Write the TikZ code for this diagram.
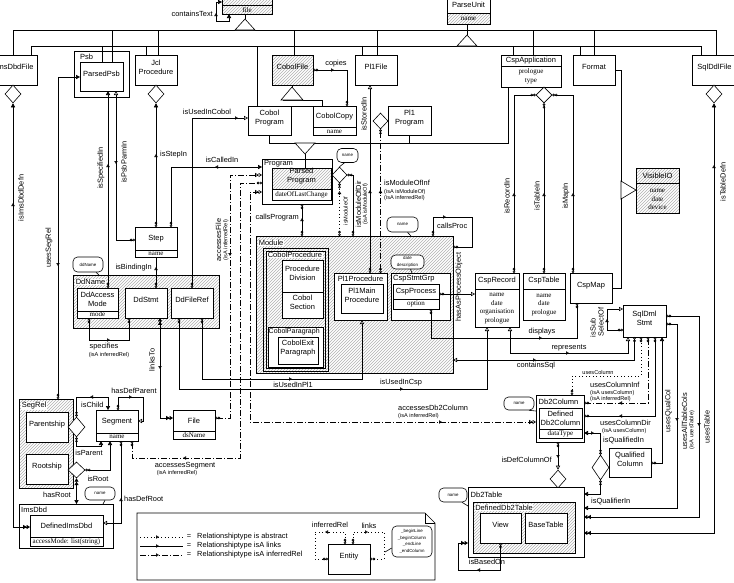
\documentclass[tikz,border=0pt]{standalone}
\usepackage{fontspec}
\setmainfont{Liberation Sans}
\newfontfamily\attrfont{Liberation Serif}
\usetikzlibrary{arrows.meta,patterns,fit,shapes.geometric}
\tikzset{
  OO/.tip={Circle[open,length=2.6pt,width=2.6pt]Circle[open,length=2.6pt,width=2.6pt]},
  TO/.tip={Triangle[open,length=4pt,width=4.2pt]},
  TOO/.tip={Triangle[open,length=3.4pt,width=4pt]Triangle[open,length=3.4pt,width=4pt]},
  TF/.tip={Triangle[length=4pt,width=4.2pt]},
  TFF/.tip={Triangle[length=3.4pt,width=4pt]Triangle[length=3.4pt,width=4pt]},
  rel/.style={line width=0.6pt},
  abst/.style={line width=0.6pt, dash pattern=on 1pt off 2.5pt},
  infr/.style={line width=0.6pt, dash pattern=on 6pt off 2pt on 1pt off 2pt},
  box/.style={draw, line width=0.6pt, fill=white, inner sep=0pt, outer sep=0pt, align=center, font=\fontsize{7.5}{9}\selectfont},
  hbox/.style={draw, line width=0.6pt, inner sep=0pt, outer sep=0pt, align=center, font=\fontsize{7.5}{9}\selectfont, preaction={fill=white}, pattern=north east lines, pattern color=gray!60},
  ttl/.style={inner sep=0pt, align=center, font=\fontsize{7.5}{9}\selectfont},
  boxcap/.style={inner sep=0.6pt, fill=white, anchor=west, font=\fontsize{7.5}{9}\selectfont},
  attr/.style={inner sep=0pt, align=center, font=\attrfont\fontsize{7}{8.7}\selectfont},
  lbl/.style={inner sep=0pt, font=\fontsize{7.4}{8.5}\selectfont},
  slbl/.style={inner sep=0pt, font=\fontsize{5.6}{6.5}\selectfont},
  bubble/.style={draw, line width=0.6pt, fill=white, rounded corners=4.5pt, inner sep=0pt, align=center, font=\fontsize{4.4}{6.5}\selectfont},
  dmd/.style={diamond, draw, line width=0.6pt, fill=white, inner sep=0pt},
  tri/.style={draw, line width=0.6pt, fill=white},
}
\newcommand{\marr}[4]{\draw[rel,-{Triangle[open,length=3pt,width=3.4pt]}] (#1,#2) -- ++(#3,#4);}
\begin{document}
\begin{tikzpicture}[x=1pt,y=-1pt]
\useasboundingbox (0,0) rectangle (734,582);

% ---------- top row ----------
\node[hbox, fit={(222,-12)(272,14)}] (filebox) {};
\draw[rel] (222,5) -- (272,5);
\node[attr] (filetxt) at (247,10) {file};
\node[box, fit={(447,-12)(490,24)}] (parseunit) {};
\node[hbox, fit={(447,13)(490,24)}] (puattr) {};
\node[ttl] (putitle) at (468.5,5) {ParseUnit};
\node[attr] (puname) at (468.5,19) {name};

\node[box, fit={(-8,55)(37,85)}] (imsdbdfile) {ImsDbdFile};
\node[dmd, minimum width=16pt, minimum height=18pt] (imsd) at (13,94) {};
\node[box, fit={(74,51)(129,97)}] (psb) {};
\node[ttl, anchor=west] (psbT) at (80,56.5) {Psb};
\node[box, fit={(80,62)(123,91)}] (parsedpsb) {ParsedPsb};
\node[box, fit={(135,55)(177,85)}] (jcl) {Jcl\\Procedure};
\node[dmd, minimum width=16pt, minimum height=18pt] (jcld) at (156,94) {};
\node[hbox, fit={(272,55)(313,85)}] (cobolfile) {CobolFile};
\node[box, fit={(355,55)(397,85)}] (pl1file) {Pl1File};
\node[box, fit={(501,55)(561,87)}] (cspapp) {};
\draw[rel] (501,66) -- (561,66);
\node[ttl] (cspappT) at (531,60.5) {CspApplication};
\node[attr] (cspappA) at (531,76.5) {prologue\\type};
\node[dmd, minimum width=16pt, minimum height=16pt] (cspd) at (544,95) {};
\node[box, fit={(573,55)(615,85)}] (format) {Format};
\node[box, fit={(692,55)(737,85)}] (sqlddlfile) {SqlDdlFile};
\node[dmd, minimum width=16pt, minimum height=18pt] (sqld) at (714,94) {};

% ---------- programs ----------
\node[box, fit={(248,106)(291,135)}] (cobolprog) {Cobol\\Program};
\node[box, fit={(313,106)(356,135)}] (cobolcopy) {};
\draw[rel] (313,127) -- (356,127);
\node[ttl] (cobolcopyT) at (334.5,117) {CobolCopy};
\node[attr] (cobolcopyA) at (334.5,131.5) {name};
\node[box, fit={(388,106)(431,135)}] (pl1prog) {Pl1\\Program};
\node[dmd, minimum width=15pt, minimum height=16pt] (pl1d) at (380.5,121) {};

\node[box, fit={(262,159)(332,204)}] (program) {};
\node[ttl, anchor=west] (programT) at (264,163.5) {Program};
\node[box, fit={(272,168)(331,200)}] (parsedprog) {};
\node[hbox, fit={(272,168)(331,189)}] (parsedprogT) {Parsed\\Program};
\node[attr] (parsedprogA) at (301.5,194.5) {dateOfLastChange};
\node[dmd, minimum width=15pt, minimum height=16pt] (progd) at (339.5,175) {};

% ---------- module ----------
\node[hbox, fit={(256,236)(453,373)}] (module) {};
\node[boxcap] (moduleT) at (258,243) {Module};
\node[draw, rel, inner sep=0pt, fit={(263,248)(328,371)}] (cobolproc) {};
\draw[rel] (266,251) rectangle (325,368);
\node[boxcap, fill=white] (cobolprocT) at (267,255) {CobolProcedure};
\node[box, fit={(282,260)(323,292)}] (procdiv) {Procedure\\Division};
\node[box, fit={(282,292)(323,318)}] (cobolsec) {Cobol\\Section};
\node[box, fit={(268,327)(323,367)}] (cobolpara) {};
\node[ttl, anchor=west, font=\fontsize{7}{8}\selectfont] (cobolparaT) at (268.5,332) {CobolParagraph};
\node[box, fit={(278,337)(318,364)}] (cobolexit) {CobolExit\\Paragraph};
\node[box, fit={(334,273)(387,320)}] (pl1proc) {};
\node[ttl] (pl1procT) at (360.5,279) {Pl1Procedure};
\node[box, fit={(341,284)(383,313)}] (pl1main) {Pl1Main\\Procedure};
\node[box, fit={(391,273)(450,320)}] (cspgrp) {};
\node[ttl, anchor=west] (cspgrpT) at (393,279) {CspStmtGrp};
\node[box, fit={(393,284)(439,309)}] (cspproc) {};
\draw[rel] (393,299) -- (439,299);
\node[ttl] (cspprocT) at (416,291.5) {CspProcess};
\node[attr] (cspprocA) at (416,304) {option};

% ---------- csp ----------
\node[box, fit={(475,273)(519,327)}] (csprecord) {};
\draw[rel] (475,289) -- (519,289);
\node[ttl] (csprecT) at (497,281) {CspRecord};
\node[attr] (csprecA) at (497,308.5) {name\\date\\organisation\\prologue};
\node[box, fit={(523,273)(565,320)}] (csptable) {};
\draw[rel] (523,289) -- (565,289);
\node[ttl] (csptabT) at (544,281) {CspTable};
\node[attr] (csptabA) at (544,305) {name\\date\\prologue};
\node[box, fit={(570,273)(612,303)}] (cspmap) {CspMap};
\node[hbox, fit={(636,168)(679,213)}] (visibleio) {};
\draw[rel] (636,183) -- (679,183);
\node[ttl] (vioT) at (657.5,176) {VisibleIO};
\node[attr] (vioA) at (657.5,199.5) {name\\date\\device};
\node[box, fit={(623,305)(666,337)}] (sqldml) {SqlDml\\Stmt};

% ---------- Dd / step ----------
\node[box, fit={(135,227)(177,257)}] (step) {};
\draw[rel] (135,250) -- (177,250);
\node[ttl] (stepT) at (156,238.5) {Step};
\node[attr] (stepA) at (156,253.5) {name};
\node[hbox, fit={(73,275)(219,328)}] (ddname) {};
\node[boxcap] (ddnameT) at (75,282) {DdName};
\node[box, fit={(77,288)(118,318)}] (ddaccess) {};
\draw[rel] (77,311) -- (118,311);
\node[ttl] (ddaccessT) at (97.5,299.5) {DdAccess\\Mode};
\node[attr] (ddaccessA) at (97.5,314.5) {mode};
\node[box, fit={(125,288)(167,318)}] (ddstmt) {DdStmt};
\node[box, fit={(171,288)(213,318)}] (ddfileref) {DdFileRef};
\node[box, fit={(173,410)(215,439)}] (filenode) {};
\draw[rel] (173,431) -- (215,431);
\node[ttl] (fileT) at (194,420.5) {File};
\node[attr] (fileA) at (194,435) {dsName};

% ---------- segments ----------
\node[hbox, fit={(19,399)(73,488)}] (segrel) {};
\node[boxcap] (segrelT) at (21,406) {SegRel};
\node[box, fit={(26,412)(68,442)}] (parentship) {Parentship};
\node[box, fit={(26,454)(68,484)}] (rootship) {Rootship};
\node[dmd, minimum width=17pt, minimum height=20pt] (pard) at (76.5,427) {};
\node[dmd, minimum width=17pt, minimum height=16pt] (rootd) at (76.5,470) {};
\node[box, fit={(96,410)(138,441)}] (segment) {};
\draw[rel] (96,433) -- (138,433);
\node[ttl] (segmentT) at (117,421.5) {Segment};
\node[attr] (segmentA) at (117,437) {name};
\node[box, fit={(19,504)(113,548)}] (imsdbd) {};
\node[ttl, anchor=west] (imsdbdT) at (21,510) {ImsDbd};
\node[box, fit={(30,515)(103,546)}] (defimsdbd) {};
\draw[rel] (30,537) -- (103,537);
\node[ttl] (defimsdbdT) at (66.5,526) {DefinedImsDbd};
\node[attr] (defimsdbdA) at (66.5,541.5) {accessMode: list(string)};

% ---------- db2 ----------
\node[box, fit={(536,395)(584,442)}] (db2column) {};
\node[ttl, anchor=west] (db2colT) at (538.5,402) {Db2Column};
\node[box, fit={(539,408)(582,438)}] (defdb2col) {};
\draw[rel] (539,429) -- (582,429);
\node[ttl] (defdb2colT) at (560.5,418.5) {Defined\\Db2Column};
\node[attr] (defdb2colA) at (560.5,433.5) {dataType};
\node[dmd, minimum width=17pt, minimum height=25pt] (quald) at (600.5,467.5) {};
\node[box, fit={(609,448)(651,477)}] (qualcol) {Qualified\\Column};
\node[dmd, minimum width=16pt, minimum height=18pt] (defd) at (558,479) {};
\node[box, fit={(468,487)(584,557)}] (db2table) {};
\node[ttl, anchor=west] (db2tableT) at (470.5,494.5) {Db2Table};
\node[hbox, fit={(473,502)(575,553)}] (defdb2table) {};
\node[boxcap] (defdb2tableT) at (474.5,507.5) {DefinedDb2Table};
\node[box, fit={(480,513)(521,543)}] (view) {View};
\node[box, fit={(525,513)(567,543)}] (basetable) {BaseTable};

% ---------- legend ----------
\draw[rel] (137,513) -- (425,513) -- (435,523) -- (435,580) -- (137,580) -- cycle;
\draw[rel] (425,513) -- (425,523) -- (435,523);
\node[box, fit={(328,544)(370,574)}] (entity) {Entity};

% ---------- hierarchy ----------
\draw[rel] (13,30) -- (716,30);
\draw[rel] (31,46) -- (701,46);
\draw[rel] (13,30) -- (imsdbdfile.north -| 13,0);
\draw[rel] (31,46) -- (imsdbdfile.north -| 31,0);
\draw[rel] (112,30) -- (parsedpsb.north -| 112,0);
\draw[rel] (102,46) -- (parsedpsb.north -| 102,0);
\draw[rel] (158,30) -- (jcl.north -| 158,0);
\draw[rel] (146,46) -- (jcl.north -| 146,0);
\draw[rel] (294,30) -- (cobolfile.north -| 294,0);
\draw[rel] (257,46) -- (cobolprog.north -| 257,0);
\draw[rel] (377,30) -- (pl1file.north -| 377,0);
\draw[rel] (362,46) -- (pl1file.north -| 362,0);
\draw[rel] (533,30) -- (cspapp.north -| 533,0);
\draw[rel] (513,46) -- (cspapp.north -| 513,0);
\draw[rel] (594,30) -- (format.north -| 594,0);
\draw[rel] (580,46) -- (format.north -| 580,0);
\draw[rel] (716,30) -- (sqlddlfile.north -| 716,0);
\draw[rel] (701,46) -- (sqlddlfile.north -| 701,0);
\draw[rel] (filebox.south -| 245,0) -- (245,19);
\draw[tri] (245,19) -- (255,30) -- (235,30) -- cycle;
\draw[rel] (parseunit.south -| 467,0) -- (467,35);
\draw[tri] (467,35) -- (477,46) -- (457,46) -- cycle;
% cobol file generalisation
\draw[rel] (cobolfile.south -| 292,0) -- (292,87);
\draw[rel] (cobolprog.north -| 283,0) |- (cobolcopy.north -| 322,0);
\draw[rel] (283,100) -- (322,100) -- (cobolcopy.north -| 322,0);
\draw[tri] (292,87) -- (303,100) -- (281,100) -- cycle;
% program generalisation
\draw[rel] (cobolprog.south -| 269,0) |- (508,143) -- (cspapp.south -| 508,0);
\draw[rel] (pl1prog.south -| 409,0) -- (409,143);
\draw[rel] (305,154) -- (parsedprog.north -| 305,0);
\draw[tri] (295,143) -- (315,143) -- (305,154) -- cycle;
% visibleIO generalisation
\draw[rel] (format.east |- 0,70) -| (621,288) -- (cspmap.east |- 0,288);
\draw[tri] (621,181) -- (636,190) -- (621,199) -- cycle;

% ---------- relationships ----------
\draw[rel,{TF}-{TF}] (filebox.west |- 0,2) -| (216,21) -| (filebox.south -| 229,0);
\marr{216}{16}{0}{-3}
\node[lbl, anchor=east] (lcontains) at (213,14) {containsText};

\draw[rel,{OO}-{OO}] (cobolfile.east |- 0,70) -| (cobolcopy.north -| 347,0);
\marr{331}{70}{3}{0}
\node[lbl] (lcopies) at (336,64) {copies};

\draw[rel,{TF}-{TFF}] (imsd.south) -- (13,527) -- (defimsdbd.west |- 0,527);
\marr{13}{206}{0}{-3}
\node[lbl, rotate=90] (limsdefn) at (21,198) {isImsDbdDefn};

\draw[rel,{TF}-{OO}] (parsedpsb.west |- 0,77) -| (segrel.north -| 58,0);
\marr{58}{263}{0}{3}
\node[lbl, rotate=90] (lusesseg) at (49,248) {usesSegRel};

\draw[rel,{TF}-{OO}] (parsedpsb.south -| 108,0) -- (ddaccess.north -| 108,0);
\marr{108}{167}{0}{-3}
\node[lbl, rotate=90] (lspec) at (101,168) {isSpecifiedIn};

\draw[rel,{TO}-{OO}] (parsedpsb.south -| 116,0) |- (step.west |- 0,240);
\marr{116}{161}{0}{3}
\node[lbl, rotate=90] (lpsbparm) at (124,162) {isPsbParmIn};

\draw[rel,{TF}-{OO}] (jcld.south) -- (step.north -| 156,0);
\marr{156}{157}{0}{-3}
\node[lbl, anchor=west] (lstepin) at (160,155) {isStepIn};

\draw[rel,{OO}-{TF}] (step.north -| 171,0) |- (program.west |- 0,167);
\marr{218}{167}{-3}{0}
\node[lbl] (lcalled) at (222,160) {isCalledIn};

\draw[rel,{OO}-{TO}] (ddfileref.north -| 192,0) |- (cobolprog.west |- 0,118);
\marr{235}{118}{3}{0}
\node[lbl] (lusedcobol) at (207,112) {isUsedInCobol};

\draw[rel,-{OO}] (step.south) -- (ddstmt.north -| 156,0);
\marr{156}{270}{0}{-3}
\node[lbl, anchor=east] (lbinding) at (152,268) {isBindingIn};

\draw[rel,{OO}-{OO}] (ddaccess.south -| 89,0) |- (129,340) -- (ddstmt.south -| 129,0);
\marr{107}{340}{3}{0}
\node[lbl] (lspecifies) at (104,347) {specifies};
\node[slbl] (lspecifies2) at (109,355) {(isA inferredRel)};

\draw[rel,{TFF}-{TFF}] (ddstmt.south -| 160,0) |- (filenode.west |- 0,418);
\marr{160}{366}{0}{3}
\node[lbl, rotate=90] (llinks) at (152,360) {linksTo};

\draw[rel,{OO}-{TO}] (ddfileref.south -| 179,0) |- (487,389) -- (csprecord.south -| 487,0);
\marr{400}{389}{3}{0}
\node[lbl] (lusedcsp) at (401,383) {isUsedInCsp};

\draw[rel,{OO}-{TO}] (ddfileref.south -| 202,0) |- (362,379) -- (pl1proc.south -| 362,0);
\marr{289}{379}{3}{0}
\node[lbl] (lusedpl1) at (293,385) {isUsedInPl1};

\draw[infr,{OO}-{TOO}] (filenode.east |- 0,418) -| (230,175) -- (program.west |- 0,175);
\marr{230}{253}{0}{3}
\node[lbl, rotate=90] (laccfile) at (218.5,240) {accessesFile};
\node[slbl, rotate=90] (laccfile2) at (226,240) {(isA inferredRel)};

\draw[infr,{OO}-{OO}] (segment.south -| 132,0) |- (240,458) |- (program.west |- 0,183);
\marr{186}{458}{-3}{0}
\node[lbl] (laccseg) at (185,465.5) {accessesSegment};
\node[slbl] (laccseg2) at (177,473) {(isA inferredRel)};

\draw[infr,{TOO}-{TOO}] (program.west |- 0,192) -| (250,422) -- (db2column.west |- 0,422);
\marr{439}{422}{3}{0}
\node[lbl, anchor=west] (laccdb2) at (398,408) {accessesDb2Column};
\node[slbl, anchor=west] (laccdb22) at (398,416.5) {(isA inferredRel)};

\draw[rel,{OO}-{OO}] (program.south -| 302,0) -- (module.north -| 302,0);
\marr{302}{221}{0}{-3}
\node[lbl, anchor=east] (lcallsprog) at (299,218) {callsProgram};

\draw[abst,{OO}-{OO}] (progd.south) -- (module.north -| 339.5,0);
\marr{339.5}{194}{0}{-3}
\node[slbl, rotate=90] (lmodof) at (345.5,211) {isModuleOf};

\draw[rel,{OO}-{OO}] (progd.east) -| (module.north -| 353,0);
\node[lbl, rotate=90] (lmoddir) at (358.5,204) {isModuleOfDir};
\node[slbl, rotate=90] (lmoddir2) at (365.5,204) {(isA isModuleOf)};

\draw[rel,{TO}-{OO}] (pl1file.south -| 370,0) -- (pl1proc.north -| 370,0);
\marr{370}{193}{0}{-3}
\node[lbl, rotate=90] (lstored) at (364,114) {isStoredIn};

\draw[infr,{OO}-{OO}] (pl1d.south) -- (pl1proc.north -| 380.5,0);
\marr{380.5}{193}{0}{-3}
\node[lbl, anchor=west] (lmodinf) at (384,183) {isModuleOfInf};
\node[slbl, anchor=west] (lmodinf2) at (384,192) {(isA isModuleOf)};
\node[slbl, anchor=west] (lmodinf3) at (384,198.5) {(isA inferredRel)};

\draw[rel,{OO}-{OO}] (module.north -| 433,0) |- (472,217) |- (module.east |- 0,247);
\marr{443}{217}{3}{0}
\node[lbl, anchor=west] (lcallsproc) at (437,226) {callsProc};

\draw[rel,{OO}-{TO}] (cspproc.east |- 0,294) -- (csprecord.west |- 0,294);
\node[lbl, rotate=90] (lhasproc) at (459,287) {hasAsProcessObject};

\draw[rel,{OO}-{OO}] (cspproc.south -| 431,0) |- (577,338) -- (cspmap.south -| 577,0);
\marr{539}{338}{3}{0}
\node[lbl] (ldisplays) at (542,332) {displays};

\draw[rel,{TO}-{TO}] (csprecord.south -| 510,0) |- (628,353) -- (sqldml.south -| 628,0);
\marr{566}{353}{3}{0}
\node[lbl] (lrepr) at (569,347.5) {represents};

\draw[rel,{TO}-{OO}] (module.east |- 0,360) -| (sqldml.south -| 634.5,0);
\marr{533}{360}{3}{0}
\node[lbl] (lcontsql) at (536,366) {containsSql};

\draw[rel,{OO}-{OO}] (cspd.west) -| (csprecord.north -| 514,0);
\marr{514}{196}{0}{-3}
\node[lbl, rotate=90] (lrecin) at (507,196) {isRecordIn};
\draw[rel,{OO}-{OO}] (cspd.south) -- (csptable.north -| 544,0);
\marr{544}{196}{0}{-3}
\node[lbl, rotate=90] (ltabin) at (537,196) {isTableIn};
\draw[rel,{OO}-{OO}] (cspd.east) -| (cspmap.north -| 573,0);
\marr{573}{196}{0}{-3}
\node[lbl, rotate=90] (lmapin) at (566,196) {isMapIn};

\draw[rel,{TO}-{OO}] (sqldml.west |- 0,309) -| (607,330) -- (sqldml.west |- 0,330);
\marr{607}{322}{0}{-3}
\node[lbl, rotate=90] (lissub) at (593,328) {isSub};
\node[lbl, rotate=90] (lselof) at (601,322) {SelectOf};

\draw[rel,{TF}-{TFF}] (sqld.south) -- (714,533) -- (db2table.east |- 0,533);
\marr{714}{168}{0}{-3}
\node[lbl, rotate=90] (ltabdefn) at (723,182) {isTableDefn};

\draw[rel,{OO}-{TFF}] (sqldml.east |- 0,316) -| (699,517) -- (db2table.east |- 0,517);
\marr{699}{423}{0}{3}
\node[lbl, rotate=90] (lusestab) at (707,427) {usesTable};

\draw[rel,{OO}-{TF}] (sqldml.east |- 0,324) -| (677,508) -- (db2table.east |- 0,508);
\marr{677}{418}{0}{3}
\node[lbl, rotate=90] (lallcols) at (684.5,421) {usesAllTableCols};
\node[slbl, rotate=90] (lallcols2) at (692,430) {(isA usesTable)};

\draw[rel,{TF}-{OO}] (sqldml.south -| 662,0) |- (qualcol.east |- 0,463);
\node[lbl, rotate=90] (lqualcol) at (668.5,411) {usesQualCol};

\draw[abst,{OO}-{OO}] (sqldml.south -| 641,0) |- (572,376) -- (db2column.north -| 572,0);
\node[slbl] (lusescol) at (598,372) {usesColumn};

\draw[infr,{OO}-{OO}] (sqldml.south -| 648,0) |- (db2column.east |- 0,403);
\marr{622}{403}{-3}{0}
\node[lbl, anchor=west] (lcolinf) at (590,385) {usesColumnInf};
\node[slbl, anchor=west] (lcolinf2) at (590,393) {(isA usesColumn)};
\node[slbl, anchor=west] (lcolinf3) at (590,399.5) {(isA inferredRel)};

\draw[rel,{OO}-{OO}] (sqldml.south -| 655,0) |- (db2column.east |- 0,416);
\marr{622}{416}{-3}{0}
\node[lbl, anchor=west] (lcoldir) at (600,423) {usesColumnDir};
\node[slbl, anchor=west] (lcoldir2) at (602,431) {(isA usesColumn)};

\draw[rel,{TF}-{OO}] (db2column.east |- 0,433) -| (quald.north);
\marr{591}{433}{3}{0}
\node[lbl, anchor=west] (lqualin) at (603,441) {isQualifiedIn};

\draw[rel,{OO}-{TO}] (db2column.south -| 558,0) -- (defd.north);
\marr{558}{455}{0}{3}
\node[lbl, anchor=east] (ldefcol) at (552,460) {isDefColumnOf};

\draw[rel,{OO}-{TF}] (quald.south) |- (db2table.east |- 0,494);
\node[lbl, anchor=west] (lqualifier) at (591,502) {isQualifierIn};

\draw[rel,{OO}-{TFF}] (view.south) |- (458,570) |- (db2table.west |- 0,543);
\marr{480}{570}{-3}{0}
\node[lbl] (lbased) at (487,562) {isBasedOn};

% segments
\draw[rel,{OO}-{TF}] (pard.north) |- (108,397) -- (segment.north -| 108,0);
\marr{93}{397}{-3}{0}
\node[lbl, anchor=west] (lchild) at (81,405) {isChild};
\draw[rel,{OO}-{TO}] (segment.north -| 118,0) |- (143,397) |- (segment.east |- 0,421);
\marr{129}{397}{3}{0}
\node[lbl] (ldefparent) at (134,391) {hasDefParent};
\draw[rel,{OO}-{TF}] (pard.south) |- (101,446) -- (segment.south -| 101,0);
\node[lbl] (lparent) at (89,453) {isParent};
\draw[rel,{OO}-{TF}] (rootd.east) -| (segment.south -| 110,0);
\node[lbl] (lroot) at (98,479) {isRoot};
\draw[rel,{TFF}-{TF}] (rootd.south) -- (imsdbd.north -| 76.5,0);
\node[lbl, anchor=east] (lhasroot) at (71,495) {hasRoot};
\draw[rel,{OO}-{TO}] (segment.south -| 121,0) |- (defimsdbd.east |- 0,523);
\marr{121}{501}{0}{-3}
\node[lbl, anchor=west] (ldefroot) at (124,499) {hasDefRoot};

% legend content
\draw[abst] (140,537) -- (183,537);
\marr{156}{537}{3}{0}
\node[lbl] (leq1) at (189,537) {=};
\node[lbl, anchor=west] (lleg1) at (197,537) {Relationshiptype is abstract};
\draw[rel] (140,546) -- (183,546);
\marr{156}{546}{3}{0}
\node[lbl] (leq2) at (189,546) {=};
\node[lbl, anchor=west] (lleg2) at (197,546) {Relationshiptype isA links};
\draw[infr] (140,555) -- (183,555);
\marr{156}{555}{3}{0}
\node[lbl] (leq3) at (189,555) {=};
\node[lbl, anchor=west] (lleg3) at (197,555) {Relationshiptype isA inferredRel};
\draw[abst,{OO}-{OO}] (entity.north -| 345,0) |- (315,532) |- (entity.west |- 0,559);
\marr{328}{532}{-3}{0}
\node[lbl] (linferred) at (330,525) {inferredRel};
\draw[abst,{OO}-{OO}] (entity.north -| 353,0) |- (384,532) |- (entity.east |- 0,559);
\marr{365}{532}{3}{0}
\node[lbl] (llinks2) at (369,526) {links};

% ---------- callouts ----------
\node[bubble, minimum width=21pt, minimum height=14pt] (nm1) at (347.5,155.5) {name};
\draw[rel] ([xshift=-3pt]nm1.south) -- (progd.north);
\node[bubble, minimum width=31pt, minimum height=15pt] (nm2) at (402.5,224.5) {name};
\draw[rel] ([xshift=5pt]nm2.south) -- (module.north -| 411,0);
\node[bubble, minimum width=33pt, minimum height=14pt] (nmdd) at (407.5,262) {date\\description};
\draw[rel] ([xshift=3pt]nmdd.south) -- (cspgrp.north -| 412,0);
\node[bubble, minimum width=30pt, minimum height=15pt] (nmdd2) at (88,264.5) {ddName};
\draw[rel] ([xshift=8pt]nmdd2.south) -- (ddname.north -| 99,0);
\node[bubble, minimum width=30pt, minimum height=13pt] (nm3) at (100,493.5) {name};
\draw[rel] ([xshift=5pt]nm3.south) -- (imsdbd.north -| 103,0);
\node[bubble, minimum width=30pt, minimum height=13pt] (nm4) at (519,403.5) {name};
\draw[rel] ([xshift=10pt]nm4.south) -- (db2column.west |- 0,411);
\node[bubble, minimum width=28pt, minimum height=14pt] (nm5) at (453,495) {name};
\draw[rel] ([xshift=9pt]nm5.south) -- (db2table.west |- 0,506);
\node[bubble, minimum width=40pt, minimum height=31pt] (notes) at (412,541.5) {\_beginLine\\\_beginColumn\\\_endLine\\\_endColumn};
\draw[rel] (notes.west |- 0,548) -- (385,552);
\end{tikzpicture}
\end{document}
